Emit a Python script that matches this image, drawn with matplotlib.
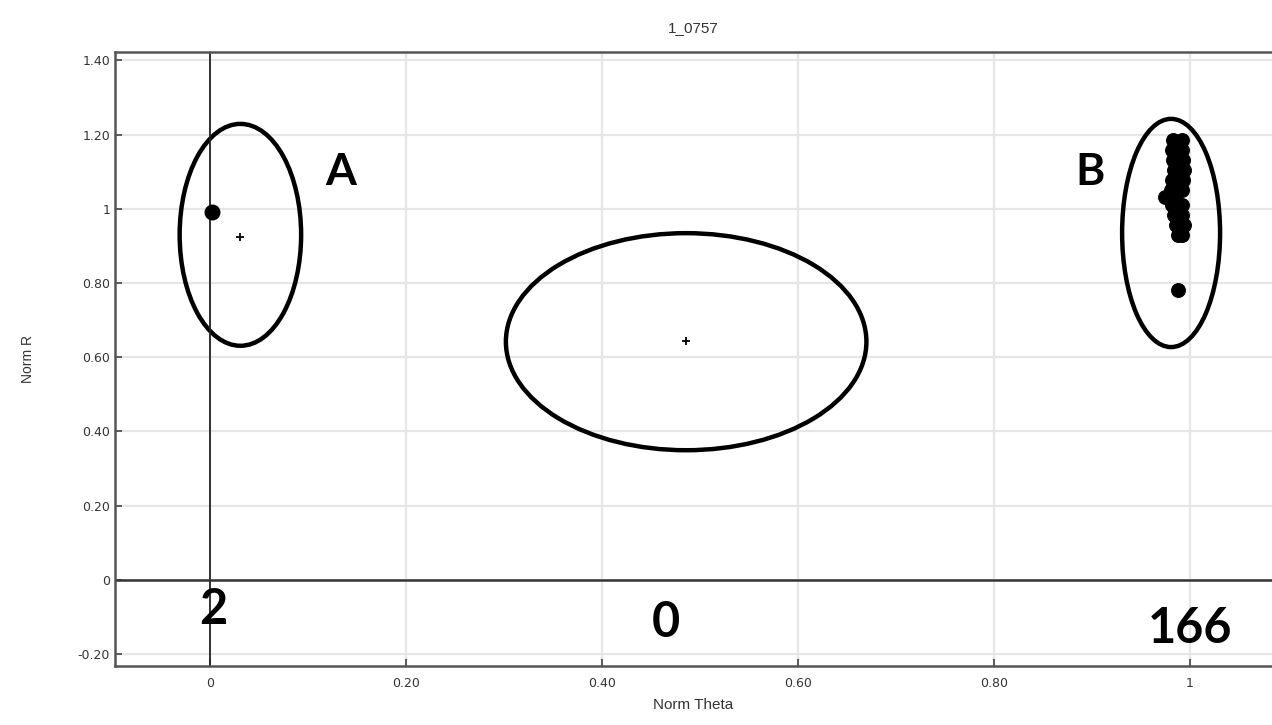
import matplotlib
matplotlib.use("Agg")
import matplotlib.pyplot as plt
from matplotlib.patches import Ellipse

title = "1_0757"
x_ticks = [0, 0.2, 0.4, 0.6, 0.8, 1.0]
x_tick_labels = ["0", "0.20", "0.40", "0.60", "0.80", "1"]
y_ticks = [-0.2, 0, 0.2, 0.4, 0.6, 0.8, 1.0, 1.2, 1.4]
y_tick_labels = ["-0.20", "0", "0.20", "0.40", "0.60", "0.80", "1", "1.20", "1.40"]

# cluster A
a_theta = [0.002]
a_r = [0.992]

# cluster B (dense blob + outlier)
b_theta = [0.983, 0.992, 0.982, 0.992, 0.983, 0.993, 0.984, 0.994, 0.982, 0.993,
           0.981, 0.992, 0.986, 0.975, 0.985, 0.982, 0.992, 0.984, 0.992,
           0.986, 0.994, 0.988, 0.992, 0.988]
b_r = [1.186, 1.186, 1.159, 1.159, 1.132, 1.132, 1.105, 1.105, 1.078, 1.078,
       1.051, 1.051, 1.051, 1.032, 1.032, 1.011, 1.011, 0.984, 0.984,
       0.957, 0.957, 0.930, 0.930, 0.782]

# cluster ellipses: centre theta, centre r, width, height
ell_theta = [0.031, 0.486, 0.981]
ell_r = [0.930, 0.642, 0.935]
ell_w = [0.124, 0.368, 0.100]
ell_h = [0.598, 0.585, 0.615]
centre_theta = [0.031, 0.486]
centre_r = [0.925, 0.644]

letters = ["A", "B"]
letter_theta = [0.133, 0.898]
letter_r = [1.10, 1.10]

counts = ["2", "0", "166"]
count_theta = [0.003, 0.465, 1.0]
count_r = [-0.08, -0.115, -0.13]

fig = plt.figure(figsize=(12.72, 7.25), dpi=100)
ax = fig.add_axes([0.0904, 0.0814, 0.9096, 0.847])

ax.set_xlim(-0.097, 1.084)
ax.set_ylim(-0.232, 1.423)
ax.grid(True, color="#e6e6e6", linewidth=1.6)
ax.set_axisbelow(True)

ax.axvline(0, color="#222222", linewidth=1.3)
ax.axhline(0, color="#333333", linewidth=1.8)

for i in range(len(ell_theta)):
    ax.add_patch(Ellipse((ell_theta[i], ell_r[i]), ell_w[i], ell_h[i],
                         fill=False, edgecolor="black", linewidth=3.2))

ax.scatter(centre_theta, centre_r, marker="+", s=30, color="black", linewidth=1.3, zorder=4)
ax.scatter(a_theta, a_r, s=110, color="black", zorder=5)
ax.scatter(b_theta, b_r, s=95, color="black", zorder=5)

for i in range(len(letters)):
    ax.text(letter_theta[i], letter_r[i], letters[i], fontsize=32, fontweight="bold",
            family="Lato", ha="center", va="center")
for i in range(len(counts)):
    ax.text(count_theta[i], count_r[i], counts[i], fontsize=35, fontweight="bold",
            family="Lato", ha="center", va="center")

ax.set_xticks(x_ticks)
ax.set_xticklabels(x_tick_labels)
ax.set_yticks(y_ticks)
ax.set_yticklabels(y_tick_labels)
ax.tick_params(direction="in", length=5, width=1.2, colors="#444444", labelsize=9,
               labelcolor="#333333")
ax.tick_params(axis="x", pad=8)

for s in ["left", "bottom", "top"]:
    ax.spines[s].set_color("#555555")
    ax.spines[s].set_linewidth(1.8)
ax.spines["right"].set_visible(False)

ax.set_xlabel("Norm Theta", fontsize=11, color="#333333", family="Liberation Sans", labelpad=6)
ax.set_ylabel("Norm R", fontsize=10, color="#333333", family="Liberation Sans", labelpad=31)
ax.set_title(title, fontsize=11, color="#333333", family="Liberation Sans", pad=14)

fig.savefig("out.png", dpi=100)
